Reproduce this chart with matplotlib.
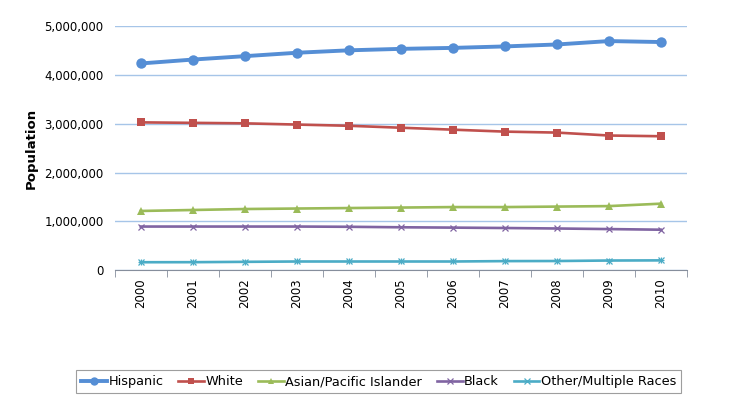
import numpy as np
import matplotlib.pyplot as plt
from matplotlib.ticker import FuncFormatter, FixedLocator

years = ['2000', '2001', '2002', '2003', '2004', '2005', '2006', '2007', '2008', '2009', '2010']
hispanic = [4240000, 4320000, 4390000, 4460000, 4510000, 4540000, 4560000, 4590000, 4630000, 4700000, 4680000]
white = [3030000, 3020000, 3010000, 2985000, 2960000, 2920000, 2880000, 2840000, 2820000, 2760000, 2745000]
asian = [1210000, 1230000, 1250000, 1260000, 1270000, 1280000, 1290000, 1290000, 1300000, 1310000, 1360000]
black = [890000, 890000, 890000, 890000, 885000, 875000, 868000, 860000, 850000, 838000, 825000]
other = [157000, 158000, 165000, 172000, 172000, 172000, 172000, 180000, 182000, 192000, 195000]

series = [
    ('Hispanic', hispanic, '#558ED5', 'o', 7.5, 2.8),
    ('White', white, '#C0504D', 's', 5.5, 1.9),
    ('Asian/Pacific Islander', asian, '#9BBB59', '^', 5.5, 1.9),
    ('Black', black, '#8064A2', 'x', 5, 1.9),
    ('Other/Multiple Races', other, '#4BACC6', 'x', 5, 1.9),
]

plt.rcParams['font.family'] = ['DejaVu Sans']
fig = plt.figure(figsize=(7.5, 4.01), dpi=100)
ax = fig.add_axes([0.153, 0.327, 0.763, 0.607])

x = np.arange(len(years))
for name, vals, col, mk, ms, lw in series:
    if name == 'Other/Multiple Races':
        ax.plot(x, vals, color=col, lw=lw, marker='x', ms=ms, mew=0.9, label=name)
        ax.plot(x, vals, color=col, lw=0, marker='+', ms=ms, mew=0.9)
    else:
        ax.plot(x, vals, color=col, lw=lw, marker=mk, ms=ms, mew=0.9 if mk == 'x' else 0, label=name)

ax.set_xlim(-0.5, len(years) - 0.5)
ax.set_ylim(0, 5000000)
ax.set_yticks(np.arange(0, 5000001, 1000000))
ax.yaxis.set_major_formatter(FuncFormatter(lambda v, p: f'{int(v):,}'))
ax.set_xticks(x)
ax.set_xticklabels(years, rotation=90, fontsize=8.5)
ax.xaxis.set_minor_locator(FixedLocator(np.arange(-0.5, len(years), 1)))
ax.tick_params(axis='x', which='major', length=0, pad=6)
ax.tick_params(axis='x', which='minor', length=5, color='#868e9c')
ax.tick_params(axis='y', length=0, labelsize=8.5, pad=8)
ax.grid(axis='y', color='#a6c5e8', lw=1)
ax.set_axisbelow(True)
for s in ['top', 'right', 'left']:
    ax.spines[s].set_visible(False)
ax.spines['bottom'].set_color('#868e9c')
ax.set_ylabel('Population', fontsize=9.5, fontweight='bold', labelpad=5)

leg = fig.legend(loc='center', bbox_to_anchor=(0.505, 0.048), ncol=5, fontsize=9.3,
                 frameon=True, fancybox=False, edgecolor='#868686', handlelength=2.0,
                 handletextpad=0.1, columnspacing=1.15, borderpad=0.4, markerscale=0.8)
leg.get_frame().set_linewidth(0.8)

fig.savefig('out.png', dpi=100)
